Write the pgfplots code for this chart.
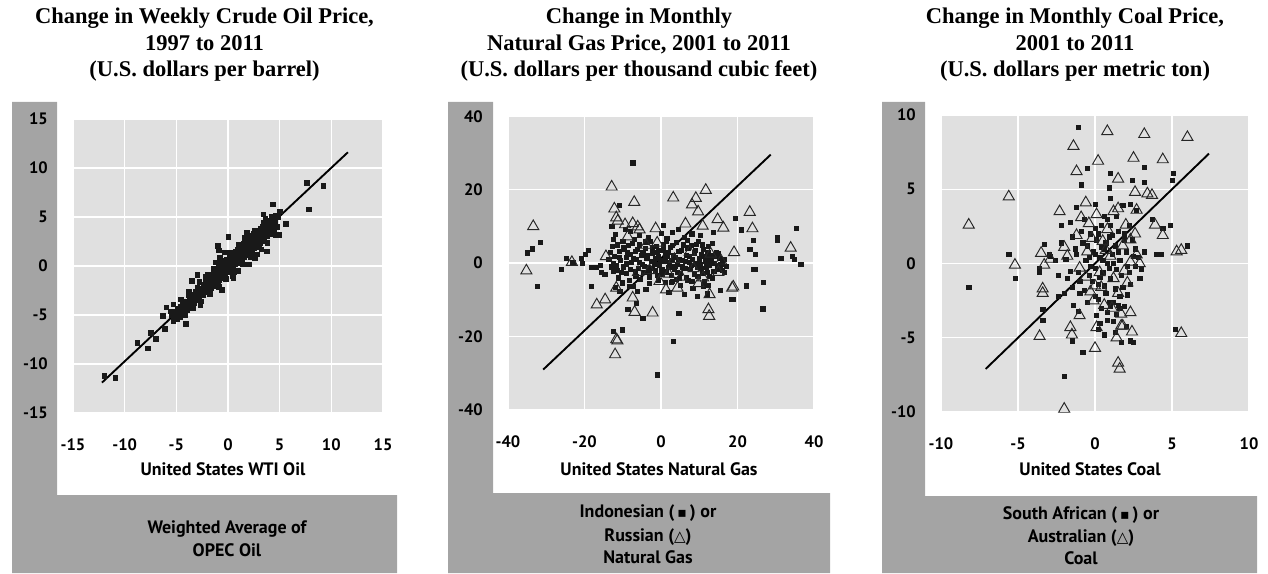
\documentclass[border=0pt]{standalone}
\usepackage{pgfplots}
\pgfplotsset{compat=1.18}
\usepackage{fontspec}
\newfontfamily\labfont{PT Sans}
\newfontfamily\titlefont{Liberation Serif}
\newfontfamily\symfont{DejaVu Sans}
\definecolor{stripgray}{RGB}{164,164,164}
\definecolor{plotbg}{RGB}{224,224,224}
\definecolor{markc}{RGB}{25,25,25}
\pgfplotsset{
 panel/.style={
  scale only axis, anchor=south west,
  axis background/.style={fill=plotbg},
  grid=major, major grid style={white, line width=1.3pt},
  axis line style={draw=none},
  major tick length=0pt,
  tick label style={font=\labfont\bfseries\fontsize{16.5}{16.5}\selectfont, inner sep=0pt},
  yticklabel style={anchor=east, xshift=-25pt},
  xticklabel style={anchor=north, yshift=-26pt},
  clip=false,
 },
 sq/.style={only marks, mark=square*, mark size=2.1pt, mark options={draw=markc, fill=markc}},
 tri/.style={only marks, mark=triangle, mark size=6.4pt, mark options={draw=black!85, line width=0.95pt, fill=none}},
 fit/.style={black, line width=1.9pt, no marks},
}
\newcommand{\tfont}{\titlefont\bfseries\fontsize{22.5}{27}\selectfont}
\newcommand{\lfont}{\labfont\bfseries\fontsize{18}{21}\selectfont}
\begin{document}
\begin{tikzpicture}
\useasboundingbox (0,0) rectangle (1268pt,573pt);
% gray L-shaped frames
\fill[stripgray] (12pt,471pt) -- (57pt,471pt) -- (57pt,78pt) -- (397pt,78pt) -- (397pt,0pt) -- (12pt,0pt) -- cycle;
\fill[stripgray] (448pt,471pt) -- (493pt,471pt) -- (493pt,80pt) -- (830pt,80pt) -- (830pt,0pt) -- (448pt,0pt) -- cycle;
\fill[stripgray] (882pt,471pt) -- (925pt,471pt) -- (925pt,77pt) -- (1257pt,77pt) -- (1257pt,0pt) -- (882pt,0pt) -- cycle;

% titles
\node[anchor=base, inner sep=0pt, font=\tfont] at (204.5pt,549pt) {Change in Weekly Crude Oil Price,};
\node[anchor=base, inner sep=0pt, font=\tfont] at (204.5pt,522pt) {1997 to 2011};
\node[anchor=base, inner sep=0pt, font=\tfont] at (204.5pt,496pt) {(U.S. dollars per barrel)};
\node[anchor=base, inner sep=0pt, font=\tfont] at (639pt,549pt) {Change in Monthly};
\node[anchor=base, inner sep=0pt, font=\tfont] at (639pt,522pt) {Natural Gas Price, 2001 to 2011};
\node[anchor=base, inner sep=0pt, font=\tfont] at (639pt,496pt) {(U.S. dollars per thousand cubic feet)};
\node[anchor=base, inner sep=0pt, font=\tfont] at (1075pt,549pt) {Change in Monthly Coal Price,};
\node[anchor=base, inner sep=0pt, font=\tfont] at (1075pt,522pt) {2001 to 2011};
\node[anchor=base, inner sep=0pt, font=\tfont] at (1075pt,496pt) {(U.S. dollars per metric ton)};

% ---------------- Panel 1: oil ----------------
\begin{axis}[panel, at={(73pt,160pt)}, width=310pt, height=294pt,
  xmin=-15, xmax=15, ymin=-15, ymax=15,
  xtick={-15,-10,-5,0,5,10,15}, ytick={-15,-10,-5,0,5,10,15},
  xticklabels={-15,-10,-5,0,5,10,15}, yticklabels={-15,-10,-5,0,5,10,15}]
\addplot[sq, mark size=2.3pt] table {
x y
-12.0 -11.2
-10.9 -11.4
-8.8 -7.8
-7.8 -8.4
-7.5 -6.8
-7.0 -7.4
-6.1 -6.4
-6.3 -5.1
-6.0 -4.2
-5.3 -3.9
-5.6 -4.6
-4.9 -5.4
-4.1 -5.9
-3.5 -1.5
-3.0 -0.9
-1.0 2.1
-0.9 1.6
0.0 3.0
-0.6 -2.4
-0.9 -2.1
3.4 5.3
4.3 6.3
3.75 1.5
4.9 3.2
5.6 4.3
2.0 0.2
2.8 1.2
7.6 8.5
7.8 5.8
9.2 8.2
5.0 5.6
4.6 5.2
-5.5 -5.0
-5.3 -5.6
-5.2 -4.6
-5.0 -5.0
-4.9 -4.3
-4.8 -4.8
-4.7 -5.2
-4.6 -4.1
-4.5 -4.5
-4.4 -3.9
-4.3 -4.8
-4.2 -4.2
-4.1 -3.6
-4.0 -4.5
-3.9 -3.8
-3.8 -4.2
-3.7 -3.3
-3.6 -4.0
-3.5 -3.5
-3.4 -2.9
-3.3 -3.8
-3.2 -3.2
-3.1 -2.6
-3.0 -3.5
-2.9 -2.8
-2.8 -3.3
-2.7 -2.3
-2.6 -3.0
-2.5 -2.5
-2.4 -1.9
-2.4 -2.9
-2.3 -2.2
-2.2 -1.6
-2.1 -2.6
-2.0 -2.0
-1.9 -1.4
-1.9 -2.5
-1.8 -1.8
-1.7 -1.1
-1.7 -2.2
-1.6 -1.5
-1.5 -0.9
-1.5 -2.0
-1.4 -1.3
-1.3 -0.6
-1.3 -1.8
-1.2 -1.1
-1.1 -0.4
-1.1 -1.6
-1.0 -0.9
-0.9 -0.2
-0.9 -1.4
-0.8 -0.7
-0.7 0.1
-0.7 -1.2
-0.6 -0.5
-0.5 0.3
-0.5 -1.0
-0.4 -0.3
-0.3 0.5
-0.3 -0.8
-0.2 -0.1
-0.1 0.7
-0.1 -0.6
0.0 0.1
0.1 0.9
0.1 -0.4
0.2 0.3
0.3 1.1
0.3 -0.2
0.4 0.5
0.5 1.3
0.5 0.0
0.6 0.7
0.7 1.5
0.7 0.2
0.8 0.9
0.9 1.7
0.9 0.3
1.0 1.0
1.1 1.9
1.1 0.5
1.2 1.2
1.3 2.1
1.3 0.7
1.4 1.4
1.5 2.3
1.5 0.9
1.6 1.6
1.7 2.5
1.7 1.1
1.8 1.8
1.9 2.7
1.9 1.2
2.0 2.0
2.1 2.9
2.1 1.4
2.2 2.2
2.3 3.1
2.3 1.6
2.4 2.4
2.5 3.3
2.5 1.8
2.6 2.6
2.7 3.4
2.7 2.0
2.8 2.8
2.9 3.6
2.9 2.2
3.0 3.0
3.1 3.8
3.1 2.4
3.2 3.2
3.3 4.0
3.3 2.6
3.4 3.4
3.5 4.2
3.5 2.8
3.6 3.6
3.7 4.3
3.8 3.1
3.9 3.9
4.0 4.6
4.1 3.3
4.2 4.2
4.3 4.8
4.4 3.6
4.5 4.5
4.7 4.0
4.8 5.0
-2.0 -0.9
-1.2 0.4
1.0 -0.5
0.5 -1.2
2.6 0.8
3.2 1.7
-3.8 -2.6
-2.7 -4.0
1.8 3.4
-0.3 1.4
-4.6 -3.4
-4.2 -5.0
-3.8 -3.0
-3.4 -4.3
-3.0 -2.2
-2.6 -3.6
-2.2 -1.1
-1.8 -2.8
-1.4 -0.3
-1.0 -2.0
-0.6 0.6
-0.2 -1.3
0.2 1.4
0.6 -0.6
1.0 2.2
1.4 0.2
1.8 2.8
2.2 0.9
2.6 3.6
3.0 1.9
3.4 4.4
3.8 2.4
4.2 5.0
4.6 3.2
-0.8 0.9
0.4 -1.0
1.6 2.9
2.4 1.2
3.6 4.8
-2.8 -1.6
};
\addplot[fit] coordinates {(-12.2,-11.9) (11.6,11.6)};
\end{axis}

% ---------------- Panel 2: natural gas ----------------
\begin{axis}[panel, at={(508pt,163.5pt)}, width=306pt, height=293pt,
  xmin=-40, xmax=40, ymin=-40, ymax=40,
  xtick={-40,-20,0,20,40}, ytick={-40,-20,0,20,40},
  xticklabels={-40,-20,0,20,40}, yticklabels={-40,-20,0,20,40}]
\addplot[sq] table {
x y
-35.0 2.8
-33.7 3.9
-31.5 5.7
-32.3 -6.4
-26.0 -1.6
-24.7 1.4
-23.1 0.2
-20.8 1.4
-19.9 2.4
-19.1 3.5
-20.6 -0.1
-18.2 -1.2
-16.9 -1.2
-16.0 -0.6
-18.2 -6.4
-15.6 -2.5
-14.7 -3.1
-12.5 -18.6
-10.1 -18.2
-7.4 27.4
-11.0 15.7
-8.7 -12.7
-6.5 -10.9
-4.8 -15.0
-0.9 -30.5
3.1 -21.4
4.6 -13.6
15.5 -7.5
18.3 -9.8
18.9 -9.8
19.4 12.3
21.0 9.1
24.1 6.2
23.2 3.7
24.6 2.3
24.1 -1.8
24.6 -1.8
22.3 -6.2
26.7 -5.3
26.6 -12.5
30.4 6.9
30.4 6.3
35.4 9.4
31.3 1.4
34.3 1.8
34.8 1.0
36.5 -0.3
-12.9 10.1
-12.0 7.8
-12.5 6.5
-12.8 4.5
-13.2 3.0
-12.3 1.8
-11.5 5.0
-11.0 3.2
-10.6 0.8
-11.8 -0.6
-12.6 -2.2
-11.2 -4.0
-12.0 -6.5
-10.8 -7.6
-10.0 6.0
-9.6 3.8
-9.2 1.6
-9.8 -1.0
-9.0 -2.8
-8.6 4.9
-8.2 2.4
-7.8 0.2
-8.4 -4.6
-7.4 -6.4
-7.0 6.4
-6.8 3.2
-6.4 1.0
-6.0 -1.5
-6.6 -3.5
-5.6 5.0
-5.2 2.2
-5.0 -0.4
-4.6 -2.6
-4.2 4.0
-3.8 1.4
-3.4 -1.2
-3.0 -3.8
-2.8 6.0
-2.4 2.8
-2.0 0.4
-1.6 -2.0
-1.2 4.6
-0.8 1.8
-0.4 -0.6
0.0 8.2
0.2 -3.0
0.5 3.4
0.8 0.6
1.0 -5.2
1.3 6.0
1.6 1.8
2.0 -1.2
2.3 4.4
2.6 -3.4
3.0 8.5
3.2 2.2
3.6 -0.8
4.0 5.6
4.3 -2.6
4.6 1.0
5.0 -6.0
5.3 3.6
5.6 -1.0
6.0 7.0
6.3 0.4
6.6 -3.8
7.0 4.2
7.3 1.8
7.6 -1.8
8.0 8.0
8.3 -6.8
8.6 2.6
9.0 -0.2
9.3 5.2
9.6 -3.6
10.0 1.2
10.3 7.6
10.6 -1.4
11.0 3.8
11.3 -5.0
11.6 0.6
12.0 -2.6
12.3 4.6
12.6 -0.6
13.0 2.0
13.3 -4.2
13.6 8.4
14.0 0.0
14.4 3.0
14.8 -1.8
15.2 1.4
15.6 -0.4
16.0 -2.0
16.4 1.0
17.0 -0.8
-8.0 8.6
-9.4 9.2
-6.2 -7.8
-3.0 -5.6
3.0 -5.0
6.0 -8.6
9.5 -9.0
12.0 -8.4
2.0 -8.0
-4.0 -7.2
-13.7 1.0
-13.0 -1.0
0.6 10.4
4.4 9.3
-1.0 3.0
1.0 2.0
2.8 0.8
-2.2 -1.4
4.8 -4.2
7.8 -0.6
10.8 -2.8
-5.8 7.6
-11.0 1.5
-10.4 -2.5
-9.8 4.4
-9.2 -0.2
-8.8 2.8
-8.0 -1.6
-7.6 5.4
-7.2 1.2
-6.8 -2.2
-6.2 3.8
-5.8 0.2
-5.4 -4.4
-4.8 2.8
-4.4 -0.8
-4.0 5.8
-3.6 2.0
-3.2 -2.6
-2.6 0.6
-2.2 4.2
-1.8 -0.2
-1.4 1.4
-1.0 -3.4
-0.6 3.6
-0.2 0.8
0.2 -1.6
0.6 5.0
1.0 1.0
1.4 -2.4
1.8 3.0
2.2 0.2
2.6 -5.2
3.0 4.8
3.4 -1.8
3.8 1.6
4.2 -0.4
4.6 3.2
5.0 -2.8
5.4 0.8
5.8 5.0
6.2 -1.4
6.6 2.2
7.0 -4.6
7.4 0.2
7.8 4.8
8.2 1.0
8.6 -3.0
9.0 3.4
9.4 -1.2
9.8 6.0
10.2 -0.4
10.6 2.4
11.0 -6.2
11.4 1.8
11.8 -1.0
12.2 3.0
12.6 -3.6
13.0 0.6
13.4 5.4
13.8 -2.2
14.2 1.8
14.6 -0.6
15.0 2.6
15.4 -1.2
16.0 0.2
16.5 -2.6
-12.4 0.0
-11.6 -2.0
-10.2 -5.4
-8.4 -6.4
-0.8 -4.6
4.0 -4.4
8.0 -5.0
12.4 -6.0
1.5 6.8
-3.4 7.0
6.8 6.2
10.8 5.0
};
\addplot[tri] table {
x y
-33.4 10.0
-35.2 -2.1
-23.3 0.2
-12.9 20.8
-12.2 14.8
-11.7 12.4
-11.3 11.5
-7.0 16.6
-9.4 10.5
-7.4 10.8
-6.1 9.9
-5.6 9.1
-1.4 9.4
-8.7 7.2
-3.9 4.9
-16.8 -11.4
-14.6 -10.0
-11.7 -20.9
-11.4 -21.2
-12.0 -25.0
-7.4 -9.5
-6.9 -13.4
-2.2 -13.6
-14.4 1.8
-11.7 -6.8
3.2 17.8
9.1 17.7
8.1 15.9
9.7 14.0
11.7 19.9
6.4 10.7
10.9 10.1
14.8 11.9
16.3 9.6
23.2 13.9
23.9 9.4
19.1 2.9
18.6 -6.8
12.7 -8.6
12.4 -12.7
12.6 -14.5
18.9 -6.5
33.9 4.1
15.7 0.6
-1.0 5.5
2.0 -3.0
4.3 -6.8
1.3 -7.3
-0.4 -5.0
5.3 -3.8
9.8 -5.6
8.5 -1.5
11.0 -4.0
13.0 2.5
-3.0 -2.0
7.5 3.0
-6.0 -2.5
3.5 1.0
15.0 -2.5
};
\addplot[fit] coordinates {(-30.8,-29.1) (28.7,29.6)};
\end{axis}

% ---------------- Panel 3: coal ----------------
\begin{axis}[panel, at={(941pt,161pt)}, width=308pt, height=297pt,
  xmin=-10, xmax=10, ymin=-10, ymax=10,
  xtick={-10,-5,0,5,10}, ytick={-10,-5,0,5,10},
  xticklabels={-10,-5,0,5,10}, yticklabels={-10,-5,0,5,10}]
\addplot[sq] table {
x y
-1.1 9.2
-8.2 -1.6
-5.6 0.6
-5.2 -1.0
-0.5 6.4
-0.9 5.3
1.0 6.1
0.9 5.1
3.2 6.5
2.4 5.6
3.2 5.5
5.1 6.1
5.0 5.6
6.0 1.2
4.9 2.6
4.0 0.6
4.3 0.6
-3.3 1.3
-3.0 0.6
-2.2 2.6
-2.2 1.4
-3.6 -0.3
-3.6 -0.6
-3.4 -3.1
-3.4 -3.8
-1.5 -5.2
-0.8 -6.0
-2.0 -7.6
-1.1 -3.2
2.5 -5.3
2.3 -5.2
1.7 -5.3
5.2 -4.4
0.1 -3.5
0.2 -4.4
0.8 -3.8
1.2 -3.9
-1.2 3.8
-1.5 1.8
2.3 4.0
2.7 3.6
3.7 3.0
4.4 2.4
-2.9 0.5
-1.6 -0.5
-1.2 0.6
-1.0 -1.2
-0.8 1.4
-0.6 0.2
-0.4 -0.8
-0.3 2.0
-0.1 0.8
0.0 -0.3
0.1 1.6
0.2 -1.4
0.3 0.4
0.4 2.6
0.5 -0.6
0.6 1.0
0.7 -2.0
0.8 0.0
0.9 1.8
1.0 -1.0
1.1 0.6
1.2 -2.6
1.3 1.2
1.4 -0.4
1.5 2.2
1.6 0.2
1.8 -1.6
2.0 0.8
2.2 -0.6
2.4 1.6
2.6 -0.2
2.8 0.4
3.0 -0.4
0.4 -3.0
0.9 -2.6
1.4 -3.4
0.0 -2.2
-0.5 -2.6
-1.8 -1.0
-2.4 -0.8
-2.6 0.2
-2.0 -2.0
1.6 -3.0
2.0 -4.2
0.3 -4.0
-0.7 3.0
0.6 3.2
1.4 3.2
-1.6 2.8
0.0 4.0
1.8 3.9
2.2 2.6
-1.4 -2.8
1.0 4.4
-2.4 -2.2
2.1 -2.1
1.9 -2.9
1.5 -2.8
1.0 -2.9
2.5 0.5
1.9 2.0
0.8 3.0
0.0 2.4
-1.9 0.3
-1.5 -1.6
-1.3 1.0
-1.1 -0.6
-0.9 2.2
-0.7 -1.8
-0.5 1.2
-0.3 -0.2
-0.2 -1.2
0.0 0.6
0.2 2.0
0.3 -0.9
0.5 0.2
0.6 -1.5
0.7 1.4
0.9 -0.3
1.0 2.6
1.2 0.0
1.3 -1.7
1.5 0.8
1.7 -0.8
1.9 1.6
2.1 -0.2
2.3 -1.4
2.6 1.0
2.9 -1.0
3.2 0.8
0.4 1.1
-0.4 0.4
1.1 1.9
0.2 -2.4
0.8 -3.3
1.6 -2.2
-1.0 -2.0
1.3 -4.6
0.6 -4.8
};
\addplot[tri] table {
x y
-8.2 2.6
-5.6 4.5
-5.2 -0.1
0.8 8.9
3.2 8.7
6.0 8.5
-1.4 7.9
0.2 6.9
-1.2 6.2
1.5 5.7
2.5 7.1
4.4 7.0
2.6 4.8
3.4 4.7
3.7 4.6
-2.3 3.5
-0.6 4.1
1.5 3.7
1.2 3.5
0.1 3.3
2.7 3.6
-0.9 3.1
-0.4 2.7
-1.2 1.9
3.9 2.6
4.4 1.9
2.3 1.6
2.7 0.6
2.3 0.1
2.9 0.0
5.3 0.8
5.6 0.9
-3.5 0.7
-3.3 -0.1
-2.9 0.3
-2.0 1.1
-1.8 0.5
-3.4 -1.7
-3.4 -2.0
-3.6 -4.9
-1.6 -4.3
-1.5 -4.8
-1.0 -3.5
0.1 -4.3
0.0 -5.7
-0.3 -1.9
-0.1 -2.5
1.5 -6.7
1.6 -7.1
1.4 -5.0
1.8 -4.2
2.4 -4.6
1.7 -3.4
2.3 -3.3
1.7 -4.2
2.1 -1.3
-2.0 -9.8
5.6 -4.7
0.5 1.5
1.0 0.5
-0.5 0.8
0.3 -0.6
1.2 -1.0
-1.0 -0.3
0.8 2.3
1.8 1.2
0.0 -1.5
1.5 -2.0
-0.6 -0.9
2.0 2.6
0.6 -2.8
0.7 0.9
-0.2 1.7
1.9 -0.5
0.4 -1.6
2.6 2.0
1.1 -3.0
};
\addplot[fit] coordinates {(-7.1,-7.1) (7.4,7.4)};
\end{axis}

% axis titles (x labels)
\node[anchor=base, inner sep=0pt, font=\lfont] at (223pt,98pt) {United States WTI Oil};
\node[anchor=base, inner sep=0pt, font=\lfont] at (659pt,98pt) {United States Natural Gas};
\node[anchor=base, inner sep=0pt, font=\lfont] at (1090pt,98pt) {United States Coal};

% bottom box labels (y-axis descriptions)
\node[anchor=base, inner sep=0pt, font=\lfont] at (227pt,40pt) {Weighted Average of};
\node[anchor=base, inner sep=0pt, font=\lfont] at (227pt,17pt) {OPEC Oil};
\node[anchor=base, inner sep=0pt, font=\lfont] at (648pt,56pt) {Indonesian (\,{\symfont\fontsize{14}{14}\selectfont ▪}\,) or};
\node[anchor=base, inner sep=0pt, font=\lfont] at (648pt,32pt) {Russian ({\symfont\fontsize{15}{15}\selectfont △})};
\node[anchor=base, inner sep=0pt, font=\lfont] at (648pt,10pt) {Natural Gas};
\node[anchor=base, inner sep=0pt, font=\lfont] at (1081pt,54pt) {South African (\,{\symfont\fontsize{14}{14}\selectfont ▪}\,) or};
\node[anchor=base, inner sep=0pt, font=\lfont] at (1081pt,31pt) {Australian ({\symfont\fontsize{15}{15}\selectfont △})};
\node[anchor=base, inner sep=0pt, font=\lfont] at (1081pt,9pt) {Coal};
\end{tikzpicture}
\end{document}
